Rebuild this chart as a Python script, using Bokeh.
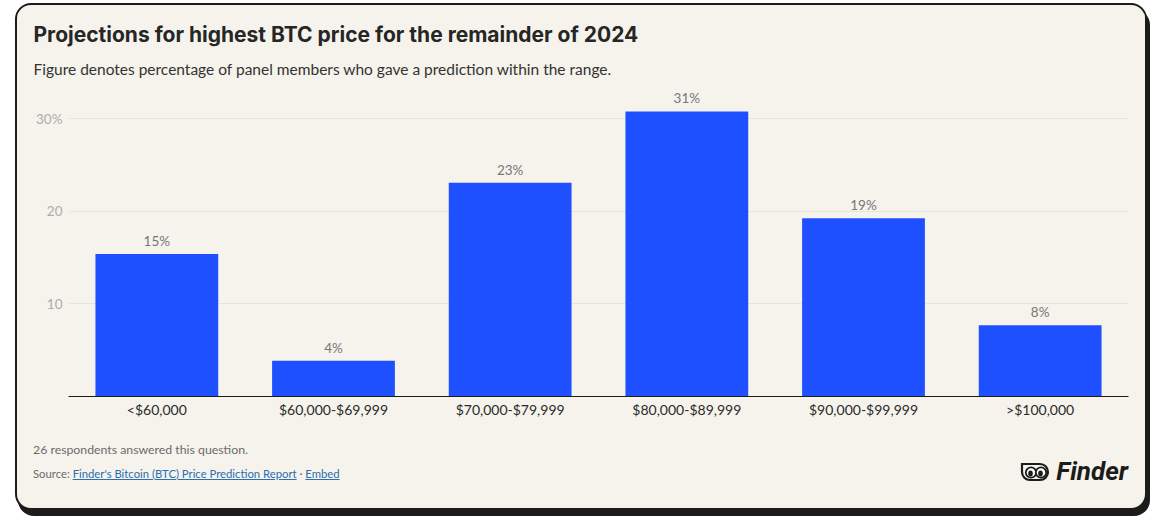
from bokeh.plotting import figure
from bokeh.models import ColumnDataSource, FactorRange, Range1d, Title, FixedTicker, Div
from bokeh.layouts import column
from bokeh.embed import file_html
from bokeh.resources import INLINE
from bokeh.core.properties import value

# ---- data ----
categories = ["<$60,000", "$60,000-$69,999", "$70,000-$79,999",
              "$80,000-$89,999", "$90,000-$99,999", ">$100,000"]
shares = [15.38, 3.85, 23.08, 30.77, 19.23, 7.69]
share_labels = ["15%", "4%", "23%", "31%", "19%", "8%"]
y_ticks = [10, 20, 30]
y_tick_labels = {30: "30%", 20: "20", 10: "10"}

title_text = "Projections for highest BTC price for the remainder of 2024"
subtitle_text = "Figure denotes percentage of panel members who gave a prediction within the range."
note_text = "26 respondents answered this question."
source_text = "Finder's Bitcoin (BTC) Price Prediction Report"

CREAM = "#f5f3ec"
BLUE = "#1f50ff"
INK = "#1c1c1a"
FONT = "Lato"

src = ColumnDataSource(dict(cat=categories, val=shares, lab=share_labels))

p = figure(x_range=FactorRange(factors=categories), y_range=Range1d(0, 34),
           width=1128, height=413, output_backend="svg", toolbar_location=None,
           min_border_left=51, min_border_right=17, min_border_bottom=29, min_border_top=0,
           margin=(7, 0, 0, 0))
p.background_fill_color = CREAM
p.border_fill_color = CREAM
p.outline_line_color = None

# titles
p.title.text = title_text
p.title.text_font = "Inter"
p.title.text_font_size = "21px"
p.title.text_font_style = "bold"
p.title.text_color = "#262626"
p.title.align = "left"
p.title.offset = -35
p.title.standoff = 15
sub = Title(text=subtitle_text, text_font=FONT, text_font_size="15.5px",
            text_font_style="normal", text_color="#333333", align="left",
            offset=-35, standoff=6.5)
p.add_layout(sub, "above")

p.vbar(x="cat", top="val", width=0.695, source=src, color=BLUE, line_color=None)
p.text(x="cat", y="val", text="lab", source=src, text_align="center",
       text_baseline="bottom", y_offset=-5, text_font=value(FONT),
       text_font_size="13.5px", text_color="#777777")

# axes
p.xaxis.axis_line_color = INK
p.xaxis.axis_line_width = 1
p.xaxis.major_tick_line_color = None
p.xaxis.minor_tick_line_color = None
p.xaxis.major_tick_out = 0
p.xaxis.major_tick_in = 0
p.xaxis.major_label_text_font = FONT
p.xaxis.major_label_text_font_size = "14px"
p.xaxis.major_label_text_color = "#2a2a2a"
p.xaxis.major_label_standoff = 4

p.yaxis.ticker = FixedTicker(ticks=y_ticks)
p.yaxis.major_label_overrides = y_tick_labels
p.yaxis.axis_line_color = None
p.yaxis.major_tick_line_color = None
p.yaxis.minor_tick_line_color = None
p.yaxis.major_tick_out = 0
p.yaxis.major_tick_in = 0
p.yaxis.major_label_text_font = FONT
p.yaxis.major_label_text_font_size = "13.5px"
p.yaxis.major_label_text_color = "#adadad"
p.yaxis.major_label_standoff = 6

p.xgrid.grid_line_color = None
p.ygrid.grid_line_color = "#e6e4dc"
p.ygrid.ticker = FixedTicker(ticks=y_ticks)

logo_svg = """
<svg width="30" height="20" viewBox="0 0 30 20" style="display:block">
 <path d="M2 2 H20 A8 8 0 0 1 20 18 H10 A8 8 0 0 1 2 10 Z" fill="none" stroke="#1c1c1a" stroke-width="2.2"/>
 <circle cx="11" cy="10.5" r="5.2" fill="#fff" stroke="#1c1c1a" stroke-width="1.8"/>
 <circle cx="21" cy="10.5" r="5.2" fill="#fff" stroke="#1c1c1a" stroke-width="1.8"/>
 <ellipse cx="10.5" cy="11.5" rx="2.3" ry="3" fill="#1c1c1a"/>
 <ellipse cx="20.5" cy="11.5" rx="2.3" ry="3" fill="#1c1c1a"/>
</svg>"""

footer_html = f"""
<div style="position:relative;width:1128px;height:83px;font-family:Lato,sans-serif;">
 <div style="position:absolute;left:16px;top:16px;font-size:12.3px;color:#6b6b6b;white-space:nowrap;">{note_text}</div>
 <div style="position:absolute;left:16px;top:41px;font-size:11.3px;color:#6b6b6b;white-space:nowrap;">Source: <span style="color:#2a6fb0;text-decoration:underline;">{source_text}</span> &middot; <span style="color:#2a6fb0;text-decoration:underline;">Embed</span></div>
 <div style="position:absolute;right:17px;top:28px;white-space:nowrap;display:flex;align-items:center;gap:6px;">{logo_svg}<span style="font-family:Roboto;font-weight:bold;font-style:italic;font-size:26px;color:#1c1c1a;">Finder</span></div>
</div>
"""
footer = Div(text=footer_html, width=1128, height=83, margin=0)

card = column(p, footer, spacing=0, styles={
    "background-color": CREAM,
    "border": "2px solid #1c1c1a",
    "border-radius": "16px",
    "box-shadow": "3px 6px 0 #1c1c1a",
    "margin-left": "15px",
    "margin-top": "3px",
    "overflow": "hidden",
})

open("out.html", "w").write(file_html(card, INLINE))
